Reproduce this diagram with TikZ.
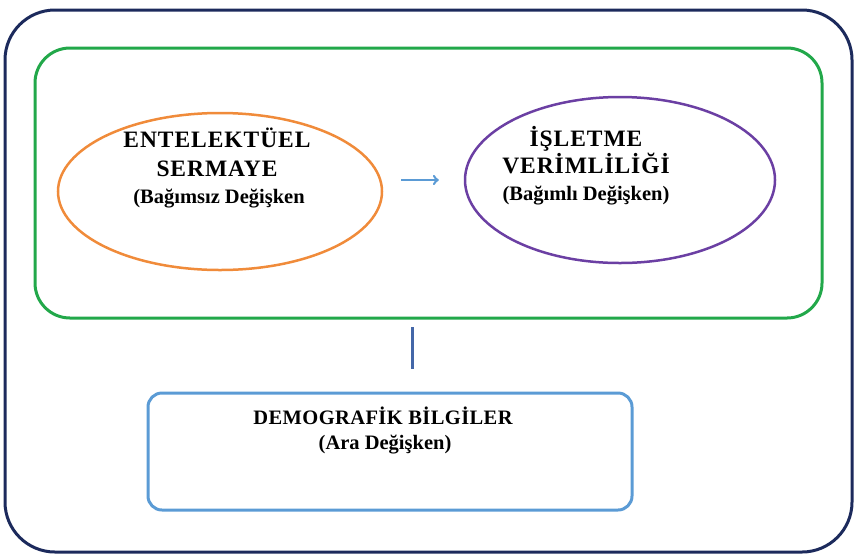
\documentclass[tikz,border=0pt]{standalone}
\usepackage{fontspec}
\setmainfont{Liberation Serif}
\usetikzlibrary{shapes.geometric}
\definecolor{navy}{HTML}{1C2A5C}
\definecolor{grn}{HTML}{22A84A}
\definecolor{orng}{HTML}{F08B3A}
\definecolor{purp}{HTML}{6B3FA3}
\definecolor{lblue}{HTML}{5B9BD5}
\definecolor{dblue}{HTML}{4467A8}
\tikzset{
  title/.style={anchor=base, font=\bfseries\fontsize{23.5}{26}\selectfont\addfontfeatures{LetterSpace=4}},
  sub/.style={anchor=base, font=\bfseries\fontsize{20.5}{22}\selectfont},
}
\begin{document}
\begin{tikzpicture}[x=1pt,y=-1pt]
    \useasboundingbox (0,0) rectangle (858,558);
    % frames
    \draw[navy, line width=3pt, rounded corners=50pt] (5,10) rectangle (852,552);
    \node[draw=grn, line width=3pt, rounded corners=35pt, minimum width=787pt, minimum height=270pt] (model) at (428.5,183) {};
    \node[draw=lblue, line width=3pt, rounded corners=14pt, minimum width=484pt, minimum height=117pt] (demo) at (390,451.5) {};
    % ellipses
    \node[ellipse, draw=orng, line width=2.5pt, minimum width=324pt, minimum height=157pt] (ent) at (220,191.5) {};
    \node[ellipse, draw=purp, line width=2.5pt, minimum width=310pt, minimum height=166pt] (isl) at (620,180) {};
    % texts
    \node[title] (enta) at (217,147) {ENTELEKTÜEL};
    \node[title] (entb) at (217,176) {SERMAYE};
    \node[sub] (entc) at (219,203) {(Bağımsız Değişken};
    \node[title] (isla) at (586,146) {İŞLETME};
    \node[title] (islb) at (586,173) {VERİMLİLİĞİ};
    \node[sub] (islc) at (586,200) {(Bağımlı Değişken)};
    \node[sub, font=\bfseries\fontsize{20.5}{22}\selectfont\addfontfeatures{LetterSpace=2}] (demoa) at (383,424) {DEMOGRAFİK BİLGİLER};
    \node[sub] (demob) at (385,449) {(Ara Değişken)};
    % links
    \draw[->, lblue, line width=2.5pt, shorten <=18pt, shorten >=25pt] (ent.east |- isl) -- (isl.west);
    \coordinate (link) at (412,0);
    \draw[dblue, line width=3pt, shorten <=23pt, shorten >=7pt] (demo.north -| link) -- (model.south -| link);
\end{tikzpicture}
\end{document}
